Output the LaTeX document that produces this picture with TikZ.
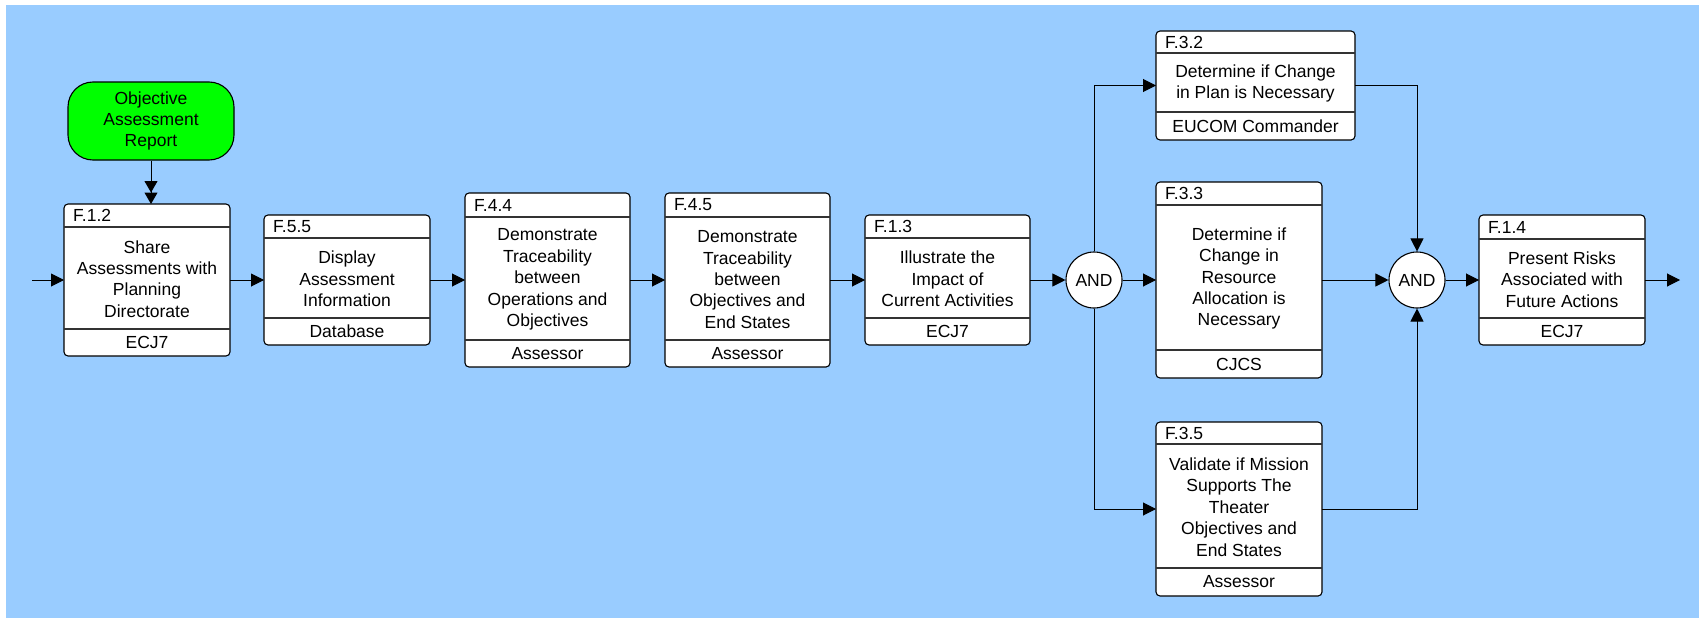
\documentclass[tikz,border=0pt]{standalone}
\usepackage{fontspec}
\setmainfont{Liberation Sans}
\usetikzlibrary{arrows.meta}
\definecolor{bgblue}{HTML}{99CCFF}
\definecolor{oargreen}{HTML}{00FF00}
\tikzset{
  pboxshape/.style={draw=black, line width=1.1pt, fill=white, rounded corners=4pt, inner sep=0pt, outer sep=0pt},
  divline/.style={line width=1.4pt, draw=black!80},
  idtext/.style={inner sep=0pt, anchor=west, font=\fontsize{17.5}{20}\selectfont},
  bodytext/.style={inner sep=0pt, align=center, font=\fontsize{17.5}{21.4}\selectfont},
  gate/.style={circle, draw=black, line width=1.1pt, fill=white, minimum size=56pt, inner sep=0pt, font=\fontsize{17.5}{20}\selectfont},
  startbox/.style={draw=black, line width=1.1pt, fill=oargreen, rounded corners=25pt, inner sep=0pt, align=center, font=\fontsize{17.5}{21.4}\selectfont},
  arr/.style={line width=1pt, -{Triangle[length=13pt,width=13pt]}},
  darr/.style={line width=1pt, -{Triangle[length=11.5pt,width=13pt]Triangle[length=11.5pt,width=13pt]}}
}
\def\pboxgeo#1,#2,#3,#4,#5,#6\relax{\def\pbxa{#1}\def\pbya{#2}\def\pbxb{#3}\def\pbyb{#4}\def\pbh{#5}\def\pbf{#6}}
\newcommand\pbox[5]{%
  \pboxgeo#2\relax
  \node[pboxshape, minimum width={\pbxb-\pbxa}, minimum height={\pbyb-\pbya}] (#1) at ({(\pbxa+\pbxb)/2},{(\pbya+\pbyb)/2}) {};
  \draw[divline] (\pbxa,\pbh) -- (\pbxb,\pbh);
  \draw[divline] (\pbxa,\pbf) -- (\pbxb,\pbf);
  \node[idtext] (#1-id) at ({\pbxa+9},{(\pbya+\pbh)/2}) {#3};
  \node[bodytext] (#1-body) at ({(\pbxa+\pbxb)/2},{(\pbh+\pbf)/2+1}) {#4};
  \node[bodytext] (#1-actor) at ({(\pbxa+\pbxb)/2},{(\pbf+\pbyb)/2}) {#5};
}
\begin{document}
\begin{tikzpicture}[x=1pt,y=-1pt]
\useasboundingbox (0,0) rectangle (1699,618);
\fill[white] (0,0) rectangle (1699,618);
\fill[bgblue] (6,5) rectangle (1699,618);

\node[startbox, minimum width=166pt, minimum height=78pt] (oar) at (151,121) {Objective\\Assessment\\Report};

\pbox{p12}{64,204,230,356,227,329}{F.1.2}{Share\\Assessments with\\Planning\\Directorate}{ECJ7}
\pbox{p55}{264,215,430,345,238,318}{F.5.5}{Display\\Assessment\\Information}{Database}
\pbox{p44}{465,193,630,367,217,340}{F.4.4}{Demonstrate\\Traceability\\between\\Operations and\\Objectives}{Assessor}
\pbox{p45}{665,193,830,367,217,340}{F.4.5}{Demonstrate\\Traceability\\between\\Objectives and\\End States}{Assessor}
\pbox{p13}{865,215,1030,345,238,318}{F.1.3}{Illustrate the\\Impact of\\Current Activities}{ECJ7}
\pbox{p32}{1156,31,1355,140,53,112}{F.3.2}{Determine if Change\\in Plan is Necessary}{EUCOM Commander}
\pbox{p33}{1156,182,1322,378,205,350}{F.3.3}{Determine if\\Change in\\Resource\\Allocation is\\Necessary}{CJCS}
\pbox{p35}{1156,422,1322,596,444,568}{F.3.5}{Validate if Mission\\Supports The\\Theater\\Objectives and\\End States}{Assessor}
\pbox{p14}{1479,215,1645,345,239,318}{F.1.4}{Present Risks\\Associated with\\Future Actions}{ECJ7}

\node[gate] (and1) at (1094,280) {AND};
\node[gate] (and2) at (1417,280) {AND};

\coordinate (in) at (32,280);
\coordinate (out) at (1680,280);

\draw[darr] (oar) -- (oar |- p12.north);
\draw[arr] (in) -- (p12);
\draw[arr] (p12) -- (p55);
\draw[arr] (p55) -- (p44);
\draw[arr] (p44) -- (p45);
\draw[arr] (p45) -- (p13);
\draw[arr] (p13) -- (and1);
\draw[arr] (and1) -- (p33);
\draw[arr] (p33) -- (and2);
\draw[arr] (and2) -- (p14);
\draw[arr] (p14) -- (out);
\draw[arr] (and1) |- (p32);
\draw[arr] (and1) |- (p35);
\draw[arr] (p32) -| (and2);
\draw[arr] (p35) -| (and2);
\end{tikzpicture}
\end{document}
